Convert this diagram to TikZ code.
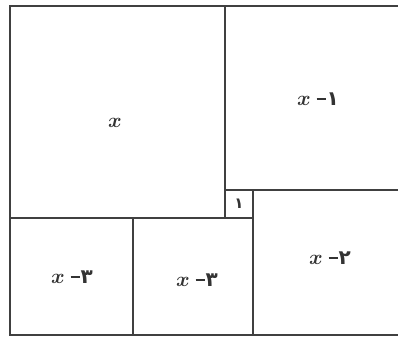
\documentclass[tikz,border=0pt]{standalone}
\usepackage{fontspec}
\usepackage{amsmath}
\newfontfamily\fafont[Script=Arabic]{DejaVu Sans}
\newcommand{\xv}{$\boldsymbol{x}$}
\newcommand{\dsh}{\rule[0.28em]{0.45em}{0.09em}}
\begin{document}
\begin{tikzpicture}[x=1pt,y=-1pt,
  edge/.style={draw=black!75,line width=1.2pt},
  lbl/.style={font=\fontsize{20}{22}\selectfont,text=black!80,inner sep=0pt}]
\useasboundingbox (0,0) rectangle (398,337);
\coordinate (TL) at (10,6);
\coordinate (TR) at (398,6);
\coordinate (BL) at (10,335);
\coordinate (BR) at (398,335);
\coordinate (A) at (225,6);
\coordinate (B) at (225,218);
\coordinate (C) at (10,218);
\coordinate (D) at (225,190);
\coordinate (E) at (398,190);
\coordinate (F) at (253,190);
\coordinate (G) at (253,335);
\coordinate (H) at (253,218);
\coordinate (I) at (133,218);
\coordinate (J) at (133,335);
\draw[edge] (TR) -- (TL) -- (BL) -- (BR);
\draw[edge] (A) -- (B);
\draw[edge] (C) -- (H);
\draw[edge] (D) -- (E);
\draw[edge] (F) -- (G);
\draw[edge] (I) -- (J);
\node[lbl] (nx) at (115,123) {\xv};
\node[lbl] (n1) at (318,99) {\xv\hspace{0.3em}\dsh\hspace{0.05em}{\fafont\bfseries ۱}};
\node[lbl] (n3a) at (72,277) {\xv\hspace{0.3em}\dsh\hspace{0.05em}{\fafont\bfseries ۳}};
\node[lbl] (n3b) at (197,280) {\xv\hspace{0.3em}\dsh\hspace{0.05em}{\fafont\bfseries ۳}};
\node[lbl] (n2) at (330,258) {\xv\hspace{0.3em}\dsh\hspace{0.05em}{\fafont\bfseries ۲}};
\node[lbl] (one) at (239,204) {\fontsize{15}{17}\selectfont\fafont\bfseries ۱};
\end{tikzpicture}
\end{document}
